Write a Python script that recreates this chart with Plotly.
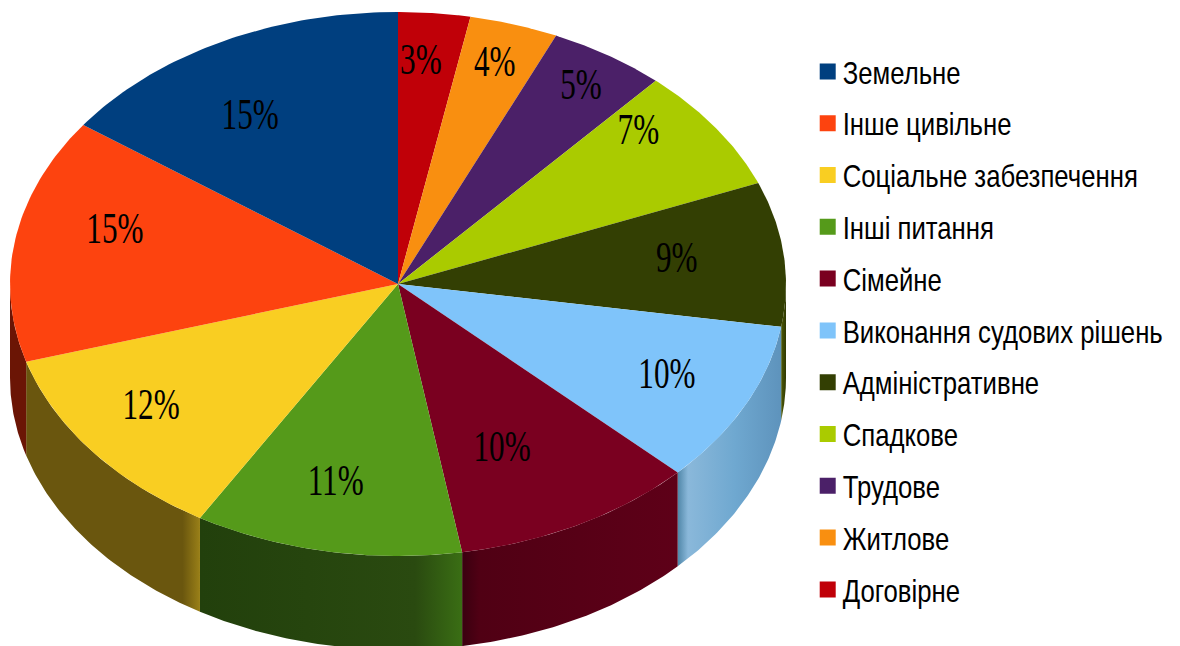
import math
import plotly.graph_objects as go

# Clockwise from 12 o'clock
categories = ["Договірне", "Житлове", "Трудове", "Спадкове", "Адміністративне",
              "Виконання судових рішень", "Сімейне", "Інші питання",
              "Соціальне забезпечення", "Інше цивільне", "Земельне"]
values = [3.0, 3.7, 4.9, 7.4, 8.6, 9.7, 10.2, 11.2, 11.9, 14.6, 15.1]

top_colors = ["#C00008", "#F98F10", "#4B2068", "#AACB00", "#333F03", "#7FC4FA",
              "#7A0020", "#559A1A", "#F9CE22", "#FD430F", "#003F7F"]
# wall gradients, left to right
wall_scales = [None, None, None, None,
               [[0, "#4F5A05"], [1, "#2E3803"]],
               [[0, "#4F86A8"], [0.1, "#8AB8DA"], [0.55, "#6FA8D0"], [1, "#5E93BC"]],
               [[0, "#3A0010"], [0.08, "#500014"], [1, "#5E0018"]],
               [[0, "#22400C"], [0.82, "#2A4A10"], [1, "#3A6E14"]],
               [[0, "#6A560E"], [0.9, "#6A560E"], [1, "#9A8018"]],
               [[0, "#6B1505"], [1, "#6B1505"]],
               None]
label_angle = [4.1, 17.0, 32.8, 47.6, 82.4, 115.5, 155.9, 192.5, 235.0, 285.5, 328.5]
label_radius = [0.826, 0.853, 0.871, 0.839, 0.725, 0.768, 0.657, 0.742, 0.777, 0.757, 0.729]
LABEL_Y_SHIFT = -0.011

DEPTH = 0.345
total = sum(values)
edges = [0.0]
for v in values:
    edges.append(edges[-1] + v / total * 360)


def arc(a0, a1, dy=0.0, n=60):
    pts = [a0 + (a1 - a0) * i / n for i in range(n + 1)]
    return ([math.sin(math.radians(a)) for a in pts],
            [math.cos(math.radians(a)) - dy for a in pts])


fig = go.Figure()

# side walls (front half only)
for i, scale in enumerate(wall_scales):
    if scale is None:
        continue
    a0, a1 = max(edges[i], 90), min(edges[i + 1], 270)
    xt, yt = arc(a0, a1)
    xb, yb = arc(a0, a1, DEPTH)
    fig.add_trace(go.Scatter(
        x=xt + xb[::-1], y=yt + yb[::-1], mode="lines", line=dict(width=0),
        fill="toself", fillgradient=dict(type="horizontal", colorscale=scale),
        showlegend=False, hoverinfo="skip"))

# top surface
for i, c in enumerate(categories):
    xa, ya = arc(edges[i], edges[i + 1])
    fig.add_trace(go.Scatter(
        x=[0] + xa + [0], y=[0] + ya + [0], mode="lines", line=dict(width=0),
        fill="toself", fillcolor=top_colors[i], showlegend=False,
        name=c, hoverinfo="name"))

# percentage labels
lx, ly, lt = [], [], []
for i, v in enumerate(values):
    a = math.radians(label_angle[i])
    lx.append(label_radius[i] * math.sin(a))
    ly.append(label_radius[i] * math.cos(a) + LABEL_Y_SHIFT)
    lt.append(f"{round(v)}%")
fig.add_trace(go.Scatter(
    x=lx, y=ly, text=lt, mode="text", textposition="middle center",
    textfont=dict(family="Liberation Serif", size=44, color="#000000"),
    showlegend=False, hoverinfo="skip"))

# legend entries
for i in reversed(range(len(categories))):
    fig.add_trace(go.Scatter(
        x=[None], y=[None], mode="markers", name=categories[i],
        legendgroup=categories[i],
        marker=dict(symbol="square", size=16, color=top_colors[i])))

fig.update_layout(
    width=1180, height=646, margin=dict(l=0, r=0, t=0, b=0, autoexpand=False),
    paper_bgcolor="white", plot_bgcolor="white", hovermode="closest",
    xaxis=dict(range=[-398 / 388, (1180 - 398) / 388], visible=False, fixedrange=True),
    yaxis=dict(range=[-(646 - 284) / 272, 284 / 272], visible=False, fixedrange=True),
    legend=dict(x=0.6845, y=0.488, yanchor="middle", xanchor="left",
                font=dict(family="Liberation Sans", size=31, color="#000000"),
                entrywidth=330, entrywidthmode="pixels",
                tracegroupgap=8.5, bgcolor="rgba(0,0,0,0)", traceorder="grouped"),
)

# The reference's text is horizontally condensed; no condensed face is installed.
post = """
document.body.style.margin = '0';
var gd = document.getElementById('{plot_id}');
function squeeze() {
  gd.querySelectorAll('.legendtext').forEach(function (t) {
    var x = parseFloat(t.getAttribute('x')) || 0;
    t.setAttribute('transform', 'translate(' + (x - 5) + ',0) scale(0.83,1) translate(' + (-x) + ',0)');
  });
  gd.querySelectorAll('.textpoint text').forEach(function (t) {
    var x = parseFloat(t.getAttribute('x')) || 0;
    t.setAttribute('transform', 'translate(' + x + ',0) scale(0.71,1) translate(' + (-x) + ',0)');
  });
}
gd.on('plotly_afterplot', squeeze);
squeeze();
setTimeout(squeeze, 50);
"""
fig.write_html("out.html", post_script=post, config={"displayModeBar": False})
